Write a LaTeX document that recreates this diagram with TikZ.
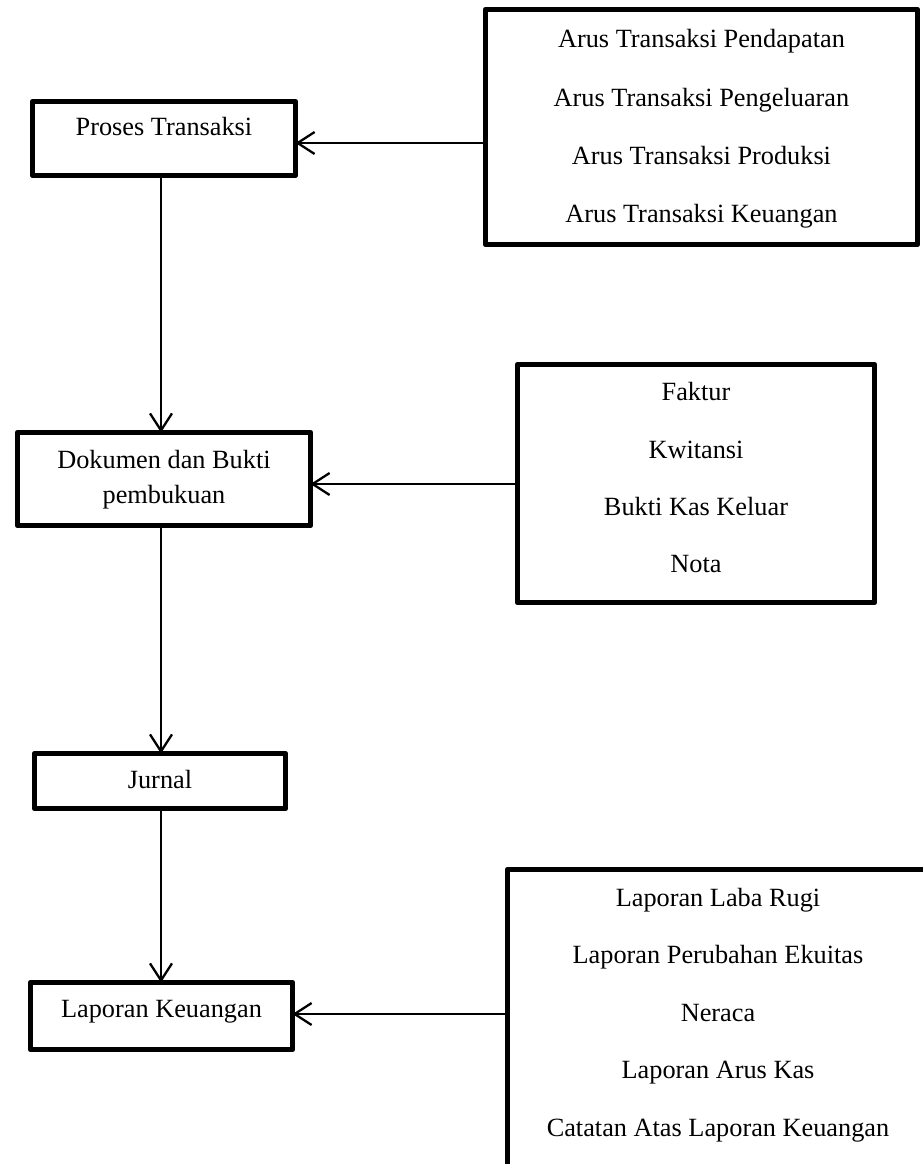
\documentclass[tikz,border=0pt]{standalone}
\usepackage{fontspec}
\setmainfont{Liberation Serif}
\usetikzlibrary{arrows.meta}
\begin{document}
\begin{tikzpicture}[x=1pt,y=-1pt,
  box/.style={draw, line width=5.5pt, line join=round, outer sep=0pt, inner sep=0pt},
  lbl/.style={font=\fontsize{26.3}{30}\selectfont, inner sep=0pt, anchor=base},
  conn/.style={line width=2.3pt, -{Straight Barb[length=17pt,width=22pt]}}]
\useasboundingbox (0,0) rectangle (923,1164);
\clip (0,0) rectangle (923,1164);
\fill[white] (0,0) rectangle (923,1164);

% left boxes
\node[box, minimum width=263pt, minimum height=74pt] (proses) at (164,138.5) {};
\node[box, minimum width=293pt, minimum height=93pt] (dokumen) at (164,479) {};
\node[box, minimum width=251pt, minimum height=55pt] (jurnal) at (160,781) {};
\node[box, minimum width=262pt, minimum height=67pt] (laporan) at (161.5,1016) {};

% right boxes
\node[box, minimum width=432pt, minimum height=235pt] (arus) at (701.5,127) {};
\node[box, minimum width=357pt, minimum height=238pt] (bukti) at (696,483.5) {};
\node[box, minimum width=421pt, minimum height=305pt] (jenis) at (718,1022) {};

% left texts
\node[lbl] (tproses) at (164,135) {Proses Transaksi};
\node[lbl] (tdok1) at (164,468) {Dokumen dan Bukti};
\node[lbl] (tdok2) at (164,503) {pembukuan};
\node[lbl] (tjurnal) at (160,788) {Jurnal};
\node[lbl] (tlap) at (161.5,1017) {Laporan Keuangan};

% right texts 1
\node[lbl] (a1) at (701.5,48) {Arus Transaksi Pendapatan};
\node[lbl] (a2) at (701.5,106) {Arus Transaksi Pengeluaran};
\node[lbl] (a3) at (701.5,164) {Arus Transaksi Produksi};
\node[lbl] (a4) at (701.5,222) {Arus Transaksi Keuangan};

% right texts 2
\node[lbl] (b1) at (696,400) {Faktur};
\node[lbl] (b2) at (696,458) {Kwitansi};
\node[lbl] (b3) at (696,515) {Bukti Kas Keluar};
\node[lbl] (b4) at (696,572) {Nota};

% right texts 3
\node[lbl] (c1) at (718,906) {Laporan Laba Rugi};
\node[lbl] (c2) at (718,963.5) {Laporan Perubahan Ekuitas};
\node[lbl] (c3) at (718,1021) {Neraca};
\node[lbl] (c4) at (718,1078.5) {Laporan Arus Kas};
\node[lbl] (c5) at (718,1136) {Catatan Atas Laporan Keuangan};

% connectors
\coordinate (col) at (161,0);
\coordinate (r1) at (0,143);
\coordinate (r2) at (0,484);
\coordinate (r3) at (0,1014);

\draw[conn] (proses.south -| col) -- (dokumen.north -| col);
\draw[conn] (dokumen.south -| col) -- (jurnal.north -| col);
\draw[conn] (jurnal.south -| col) -- (laporan.north -| col);

\draw[conn] (arus.west |- r1) -- (proses.east |- r1);
\draw[conn] (bukti.west |- r2) -- (dokumen.east |- r2);
\draw[conn] (jenis.west |- r3) -- (laporan.east |- r3);
\end{tikzpicture}
\end{document}
